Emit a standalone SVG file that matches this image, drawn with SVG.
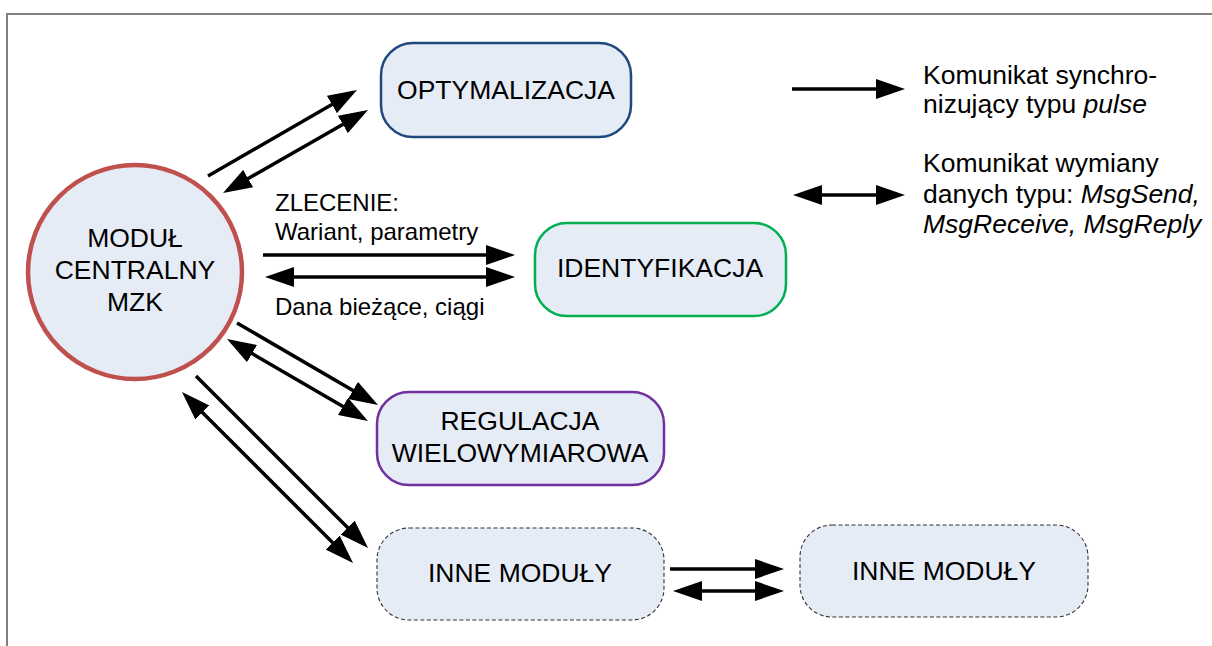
<svg xmlns="http://www.w3.org/2000/svg" width="1212" height="646" viewBox="0 0 1212 646">
<style>
text{font-family:"Liberation Sans",Arial,sans-serif;fill:#000}
.n{font-size:26.5px;text-anchor:middle}
.lbl{font-size:24px}
.leg{font-size:26.5px}
.i{font-style:italic}
.box{fill:#e6ecf6;stroke-width:2.5}
.dash{stroke:#333;stroke-width:1.1;stroke-dasharray:4,2.5}
.c{stroke:#000;stroke-width:3.5;fill:none}
.s{marker-end:url(#ah)}
.d{marker-start:url(#ah);marker-end:url(#ah)}
</style>
<defs>
<marker id="ah" markerUnits="userSpaceOnUse" markerWidth="29" markerHeight="20" refX="23" refY="10" orient="auto-start-reverse" viewBox="0 0 29 20">
<path d="M0,0 L29,10 L0,20 z" fill="#000"/>
</marker>
</defs>
<rect width="1212" height="646" fill="#fff"/>
<path d="M7,646 V14 H1212" fill="none" stroke="#7f7f7f" stroke-width="2"/>
<g id="connectors">
<line class="c s" x1="208" y1="176" x2="351.8" y2="93"/>
<line class="c d" x1="228.2" y1="190" x2="362.8" y2="113"/>
<line class="c s" x1="263" y1="255" x2="509" y2="255"/>
<line class="c d" x1="271" y1="277" x2="509" y2="277"/>
<line class="c s" x1="237" y1="323" x2="372.8" y2="402"/>
<line class="c d" x1="232.2" y1="342" x2="362.8" y2="418"/>
<line class="c s" x1="196" y1="376" x2="363.8" y2="543.8"/>
<line class="c d" x1="186.2" y1="396.2" x2="348.8" y2="558.8"/>
<line class="c s" x1="670" y1="569" x2="778" y2="569"/>
<line class="c d" x1="679" y1="591" x2="778" y2="591"/>
<text class="lbl" x="275" y="211">ZLECENIE:</text>
<text class="lbl" x="275" y="240">Wariant, parametry</text>
<text class="lbl" x="275" y="315">Dana bieżące, ciągi</text>
</g>
<g id="modul-centralny">
<circle cx="135" cy="272" r="107" fill="#e6ecf6" stroke="#c0504d" stroke-width="4.5"/>
<text class="n" x="135" y="247">MODUŁ</text>
<text class="n" x="135" y="279">CENTRALNY</text>
<text class="n" x="135" y="311">MZK</text>
</g>
<g id="optymalizacja">
<rect class="box" x="381" y="43" width="250" height="94" rx="32" stroke="#1f497d"/>
<text class="n" x="506" y="99">OPTYMALIZACJA</text>
</g>
<g id="identyfikacja">
<rect class="box" x="535" y="223" width="251" height="93" rx="32" stroke="#00b050"/>
<text class="n" x="660" y="277">IDENTYFIKACJA</text>
</g>
<g id="regulacja">
<rect class="box" x="377" y="392" width="287" height="93" rx="32" stroke="#7030a0"/>
<text class="n" x="520" y="430">REGULACJA</text>
<text class="n" x="520" y="462">WIELOWYMIAROWA</text>
</g>
<g id="inne-moduly-1">
<rect class="box dash" x="377" y="528" width="287" height="92" rx="32"/>
<text class="n" x="520" y="582">INNE MODUŁY</text>
</g>
<g id="inne-moduly-2">
<rect class="box dash" x="800" y="525" width="288" height="92" rx="32"/>
<text class="n" x="944" y="580">INNE MODUŁY</text>
</g>
<g id="legend">
<line class="c s" x1="792" y1="89" x2="899" y2="89"/>
<line class="c d" x1="799" y1="195" x2="899" y2="195"/>
<text class="leg" x="923" y="84">Komunikat synchro-</text>
<text class="leg" x="923" y="113">nizujący typu <tspan class="i">pulse</tspan></text>
<text class="leg" x="923" y="172">Komunikat wymiany</text>
<text class="leg" x="923" y="203">danych typu: <tspan class="i">MsgSend,</tspan></text>
<text class="leg i" x="923" y="233">MsgReceive, MsgReply</text>
</g>
</svg>
